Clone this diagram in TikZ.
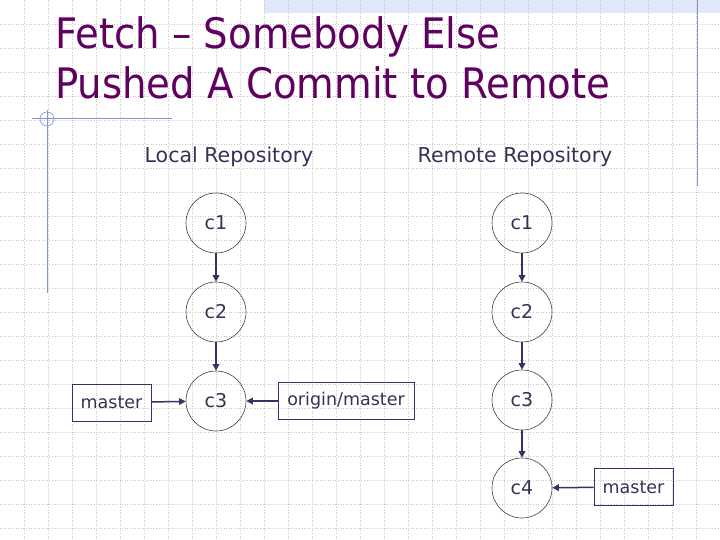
\documentclass[tikz,border=0pt]{standalone}
\usepackage{fontspec}
\setmainfont{DejaVu Sans}
\newfontfamily\titlefont{DejaVu Sans}[FakeStretch=0.92]
\usetikzlibrary{arrows.meta}
\definecolor{titlec}{RGB}{96,0,96}
\definecolor{txt}{RGB}{51,51,85}
\definecolor{arr}{RGB}{51,51,102}
\definecolor{deco}{RGB}{128,150,200}
\definecolor{band}{RGB}{224,232,250}
\definecolor{gridc}{RGB}{200,200,205}
\begin{document}
\begin{tikzpicture}[x=1pt,y=-1pt,
  commit/.style={circle,draw=black!75,line width=0.6pt,minimum size=60pt,inner sep=0pt,font=\fontsize{19}{23}\selectfont,text=txt},
  tag/.style={draw=arr,line width=0.8pt,minimum height=37pt,inner sep=0pt,font=\fontsize{17.5}{21}\selectfont,text=txt},
  link/.style={draw=arr,line width=1.5pt,-{Triangle[length=6.5pt,width=6.5pt]}},
  heading/.style={font=\fontsize{20.5}{24}\selectfont,text=txt},
  titletext/.style={anchor=base west,inner sep=0pt,text=titlec,font=\titlefont\fontsize{42}{50}\selectfont},
  decoline/.style={draw=deco,line width=1pt}]
\useasboundingbox[fill=white] (0,0) rectangle (720,540);
\fill[band] (264,0) rectangle (720,13);
\foreach \g in {24,48,...,696} \draw[gridc,dotted,line width=0.6pt] (\g,0) -- (\g,540);
\foreach \g in {24,48,...,528} \draw[gridc,dotted,line width=0.6pt] (0,\g) -- (720,\g);
% decorations
\draw[decoline] (47,110) -- (47,293);
\draw[decoline] (32,119) -- (172,119);
\draw[decoline,line width=0.6pt] (47,119) circle (7);
\draw[decoline] (697,0) -- (697,186);
% title
\node[titletext] (t1) at (55,48.5) {Fetch – Somebody Else};
\node[titletext] (t2) at (55,99) {Pushed A Commit to Remote};
% headings
\node[heading] (hl) at (229,157) {Local Repository};
\node[heading] (hr) at (515,157) {Remote Repository};
% local
\node[commit] (l1) at (216,223) {c1};
\node[commit] (l2) at (216,312) {c2};
\node[commit] (l3) at (216,401) {c3};
% remote
\node[commit] (r1) at (522,223) {c1};
\node[commit] (r2) at (522,312) {c2};
\node[commit] (r3) at (522,400) {c3};
\node[commit] (r4) at (522,488) {c4};
% labels
\node[tag,minimum width=79pt] (lm) at (111.5,402.5) {master};
\node[tag,minimum width=136pt] (om) at (346,401) {origin/master};
\node[tag,minimum width=79pt] (rm) at (633.5,487) {master};
% links
\draw[link] (l1) -- (l2);
\draw[link] (l2) -- (l3);
\draw[link] (r1) -- (r2);
\draw[link] (r2) -- (r3);
\draw[link] (r3) -- (r4);
\draw[link] (lm) -- (l3);
\draw[link] (om) -- (l3);
\draw[link] (rm) -- (r4);
\end{tikzpicture}
\end{document}
